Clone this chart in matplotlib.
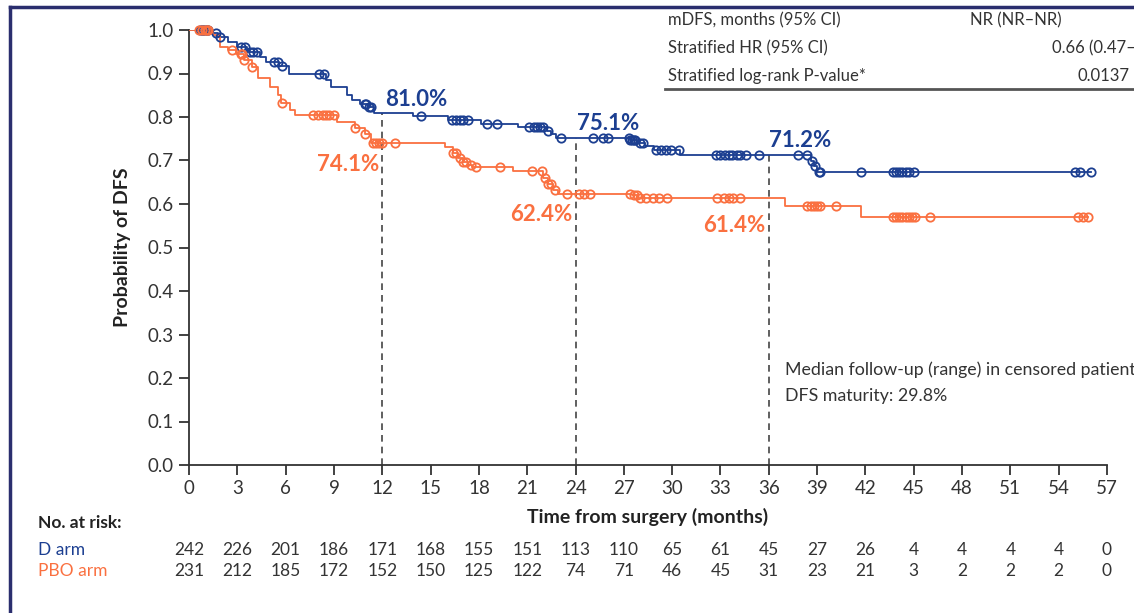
import numpy as np
import matplotlib
matplotlib.use('Agg')
import matplotlib.pyplot as plt
from matplotlib.lines import Line2D

plt.rcParams['font.family'] = ['Lato', 'DejaVu Sans']

# D arm: step times and survival after each step
d_times = [0, 1.3, 1.8, 2.4, 3.0, 3.6, 4.4, 4.8, 5.6, 6.2, 8.5, 8.8, 9.8, 10.1, 10.6, 11.2, 11.5,
           13.9, 16.1, 18.1, 20.4, 22.2, 22.5, 22.8, 27.4, 27.8, 28.3, 28.9, 30.5, 38.6, 38.8, 39.0]
d_surv = [1.0, 0.993, 0.985, 0.973, 0.960, 0.950, 0.938, 0.927, 0.918, 0.900, 0.885, 0.870, 0.850, 0.840,
          0.830, 0.822, 0.810, 0.802, 0.793, 0.784, 0.777, 0.768, 0.760, 0.751, 0.747, 0.740, 0.733, 0.725,
          0.712, 0.700, 0.688, 0.673]
d_censor = [0.7, 0.8, 0.9, 1.0, 1.1, 1.2, 1.7, 1.9, 3.2, 3.5, 3.8, 4.0, 4.2, 5.3, 5.5, 5.8, 8.1, 8.4,
            10.9, 11.0, 11.2, 11.3, 14.4, 16.3, 16.6, 16.8, 17.0, 17.3, 18.5, 19.1, 21.1, 21.4, 21.6,
            21.8, 22.0, 22.3, 23.1, 25.1, 25.7, 26.0, 27.3, 27.4, 27.5, 27.6, 27.7, 28.0, 28.2, 29.0,
            29.3, 29.6, 29.9, 30.4, 32.7, 33.0, 33.3, 33.5, 33.7, 34.0, 34.2, 34.6, 35.4, 37.8, 38.4,
            38.7, 38.9, 39.1, 39.2, 41.7, 43.7, 43.9, 44.1, 44.3, 44.5, 44.7, 45.0, 55.0, 55.3, 56.0]
d_end = 56.0

# PBO arm
p_times = [0, 1.5, 1.9, 2.4, 2.9, 3.4, 3.9, 4.3, 5.0, 5.5, 5.7, 6.3, 6.6, 9.2, 10.3, 10.9, 11.3,
           15.9, 16.4, 16.7, 17.0, 17.3, 17.6, 20.1, 22.0, 22.3, 22.6, 22.9, 27.5, 27.9, 37.0, 41.7]
p_surv = [1.0, 0.988, 0.962, 0.955, 0.945, 0.930, 0.915, 0.890, 0.870, 0.850, 0.832, 0.815, 0.805,
          0.789, 0.775, 0.760, 0.741, 0.730, 0.718, 0.706, 0.697, 0.690, 0.686, 0.676, 0.660, 0.645,
          0.633, 0.624, 0.620, 0.614, 0.595, 0.569]
p_censor = [0.6, 0.8, 1.0, 1.1, 1.2, 2.7, 3.2, 3.3, 3.4, 3.9, 5.8, 7.7, 8.0, 8.3, 8.5, 8.7, 9.0,
            10.3, 10.9, 11.4, 11.6, 11.8, 12.0, 12.8, 16.4, 16.6, 16.8, 17.0, 17.2, 17.5, 17.8, 19.3,
            21.3, 21.9, 22.1, 22.3, 22.5, 22.7, 23.5, 24.2, 24.5, 24.9, 27.4, 27.6, 27.8, 28.0, 28.4,
            28.8, 29.2, 29.7, 32.8, 33.2, 33.5, 33.8, 34.2, 38.4, 38.6, 38.8, 39.0, 39.2, 40.2, 43.7,
            43.9, 44.1, 44.3, 44.5, 44.7, 44.9, 45.1, 46.0, 55.2, 55.5, 55.8]
p_end = 55.8

risk_times = np.arange(0, 58, 3)
d_risk = [242, 226, 201, 186, 171, 168, 155, 151, 113, 110, 65, 61, 45, 27, 26, 4, 4, 4, 4, 0]
p_risk = [231, 212, 185, 172, 152, 150, 125, 122, 74, 71, 46, 45, 31, 23, 21, 3, 2, 2, 2, 0]

landmarks = [12, 24, 36]

navy = '#1c3f91'
orange = '#fa7040'
txt = '#333333'


def surv_at(times, surv, t):
    i = np.searchsorted(times, t, side='right') - 1
    return surv[i]


W, H = 1134, 613
fig = plt.figure(figsize=(W / 100, H / 100), dpi=100)
ax = fig.add_axes([189 / W, 1 - 465 / H, (1107 - 189) / W, (465 - 30) / H])


def fx(x):
    return x / W


def fy(y):
    return 1 - y / H


for times, surv, cens, end, col in [(d_times, d_surv, d_censor, d_end, navy),
                                    (p_times, p_surv, p_censor, p_end, orange)]:
    xs = list(times) + [end]
    ys = list(surv) + [surv[-1]]
    ax.step(xs, ys, where='post', color=col, lw=1.3, zorder=3)
    cy = [surv_at(times, surv, t) for t in cens]
    ax.plot(cens, cy, 'o', mfc='none', mec=col, ms=6, mew=1.3, zorder=4, clip_on=False)

for t in landmarks:
    v = surv_at(d_times, d_surv, t)
    ax.plot([t, t], [0, v], color='#444444', ls=(0, (4, 3)), lw=1.2, zorder=2)

# landmark percentages
pct = dict(fontsize=16, fontweight='bold', va='center')
ax.text(12.2, 0.84, f'{surv_at(d_times, d_surv, 12) * 100:.1f}%', color=navy, ha='left', **pct)
ax.text(24.1, 0.786, f'{surv_at(d_times, d_surv, 24) * 100:.1f}%', color=navy, ha='left', **pct)
ax.text(36.0, 0.747, f'{surv_at(d_times, d_surv, 36) * 100:.1f}%', color=navy, ha='left', **pct)
ax.text(11.8, 0.69, f'{surv_at(p_times, p_surv, 12) * 100:.1f}%', color=orange, ha='right', **pct)
ax.text(23.8, 0.575, f'{surv_at(p_times, p_surv, 24) * 100:.1f}%', color=orange, ha='right', **pct)
ax.text(35.8, 0.55, f'{surv_at(p_times, p_surv, 36) * 100:.1f}%', color=orange, ha='right', **pct)

ax.set_xlim(0, 57)
ax.set_ylim(0, 1.0)
ax.set_xticks(risk_times)
ax.set_yticks(np.arange(0, 1.01, 0.1))
ax.set_yticklabels([f'{v:.1f}' for v in np.arange(0, 1.01, 0.1)])
ax.tick_params(direction='out', length=7, width=1.3, color='#333333', labelsize=13.5,
               labelcolor=txt, pad=4)
for s in ['top', 'right']:
    ax.spines[s].set_visible(False)
for s in ['left', 'bottom']:
    ax.spines[s].set_color('#333333')
    ax.spines[s].set_linewidth(1.3)
ax.set_ylabel('Probability of DFS', fontsize=14, fontweight='bold', color='#222222', labelpad=12)
ax.set_xlabel('Time from surgery (months)', fontsize=14, fontweight='bold', color='#222222', labelpad=8)

# statistics box
box = dict(fontsize=12, color=txt, va='center')
fig.text(fx(668), fy(20), 'mDFS, months (95% CI)', **box)
fig.text(fx(668), fy(48), 'Stratified HR (95% CI)', **box)
fig.text(fx(668), fy(76), 'Stratified log-rank P-value*', **box)
fig.text(fx(970), fy(20), 'NR (NR\u2013NR)', **box)
fig.text(fx(1052), fy(48), '0.66 (0.47\u20130.91)', **box)
fig.text(fx(1077), fy(76), '0.0137', **box)
fig.add_artist(Line2D([fx(665), 1], [fy(89), fy(89)], color='#555555', lw=2))

fig.text(fx(785), fy(370), 'Median follow-up (range) in censored patients, months', fontsize=12.8,
         color=txt, va='center')
fig.text(fx(785), fy(396), 'DFS maturity: 29.8%', fontsize=12.8, color=txt, va='center')

# number at risk
fig.text(fx(38), fy(523), 'No. at risk:', fontsize=12.5, fontweight='bold', color='#222222', va='center')
fig.text(fx(38), fy(550), 'D arm', fontsize=12.5, color=navy, va='center')
fig.text(fx(38), fy(571), 'PBO arm', fontsize=12.5, color=orange, va='center')
for t, a, b in zip(risk_times, d_risk, p_risk):
    xp = ax.transData.transform((t, 0))[0] / W
    fig.text(xp, fy(550), str(a), fontsize=12.5, color=txt, va='center', ha='center')
    fig.text(xp, fy(571), str(b), fontsize=12.5, color=txt, va='center', ha='center')

# slide frame
frame = '#2a2e6e'
fig.add_artist(Line2D([fx(10), fx(10)], [fy(7), 0], color=frame, lw=2.5))
fig.add_artist(Line2D([fx(10), 1], [fy(7), fy(7)], color=frame, lw=2.5))

fig.savefig('out.png', dpi=100)
